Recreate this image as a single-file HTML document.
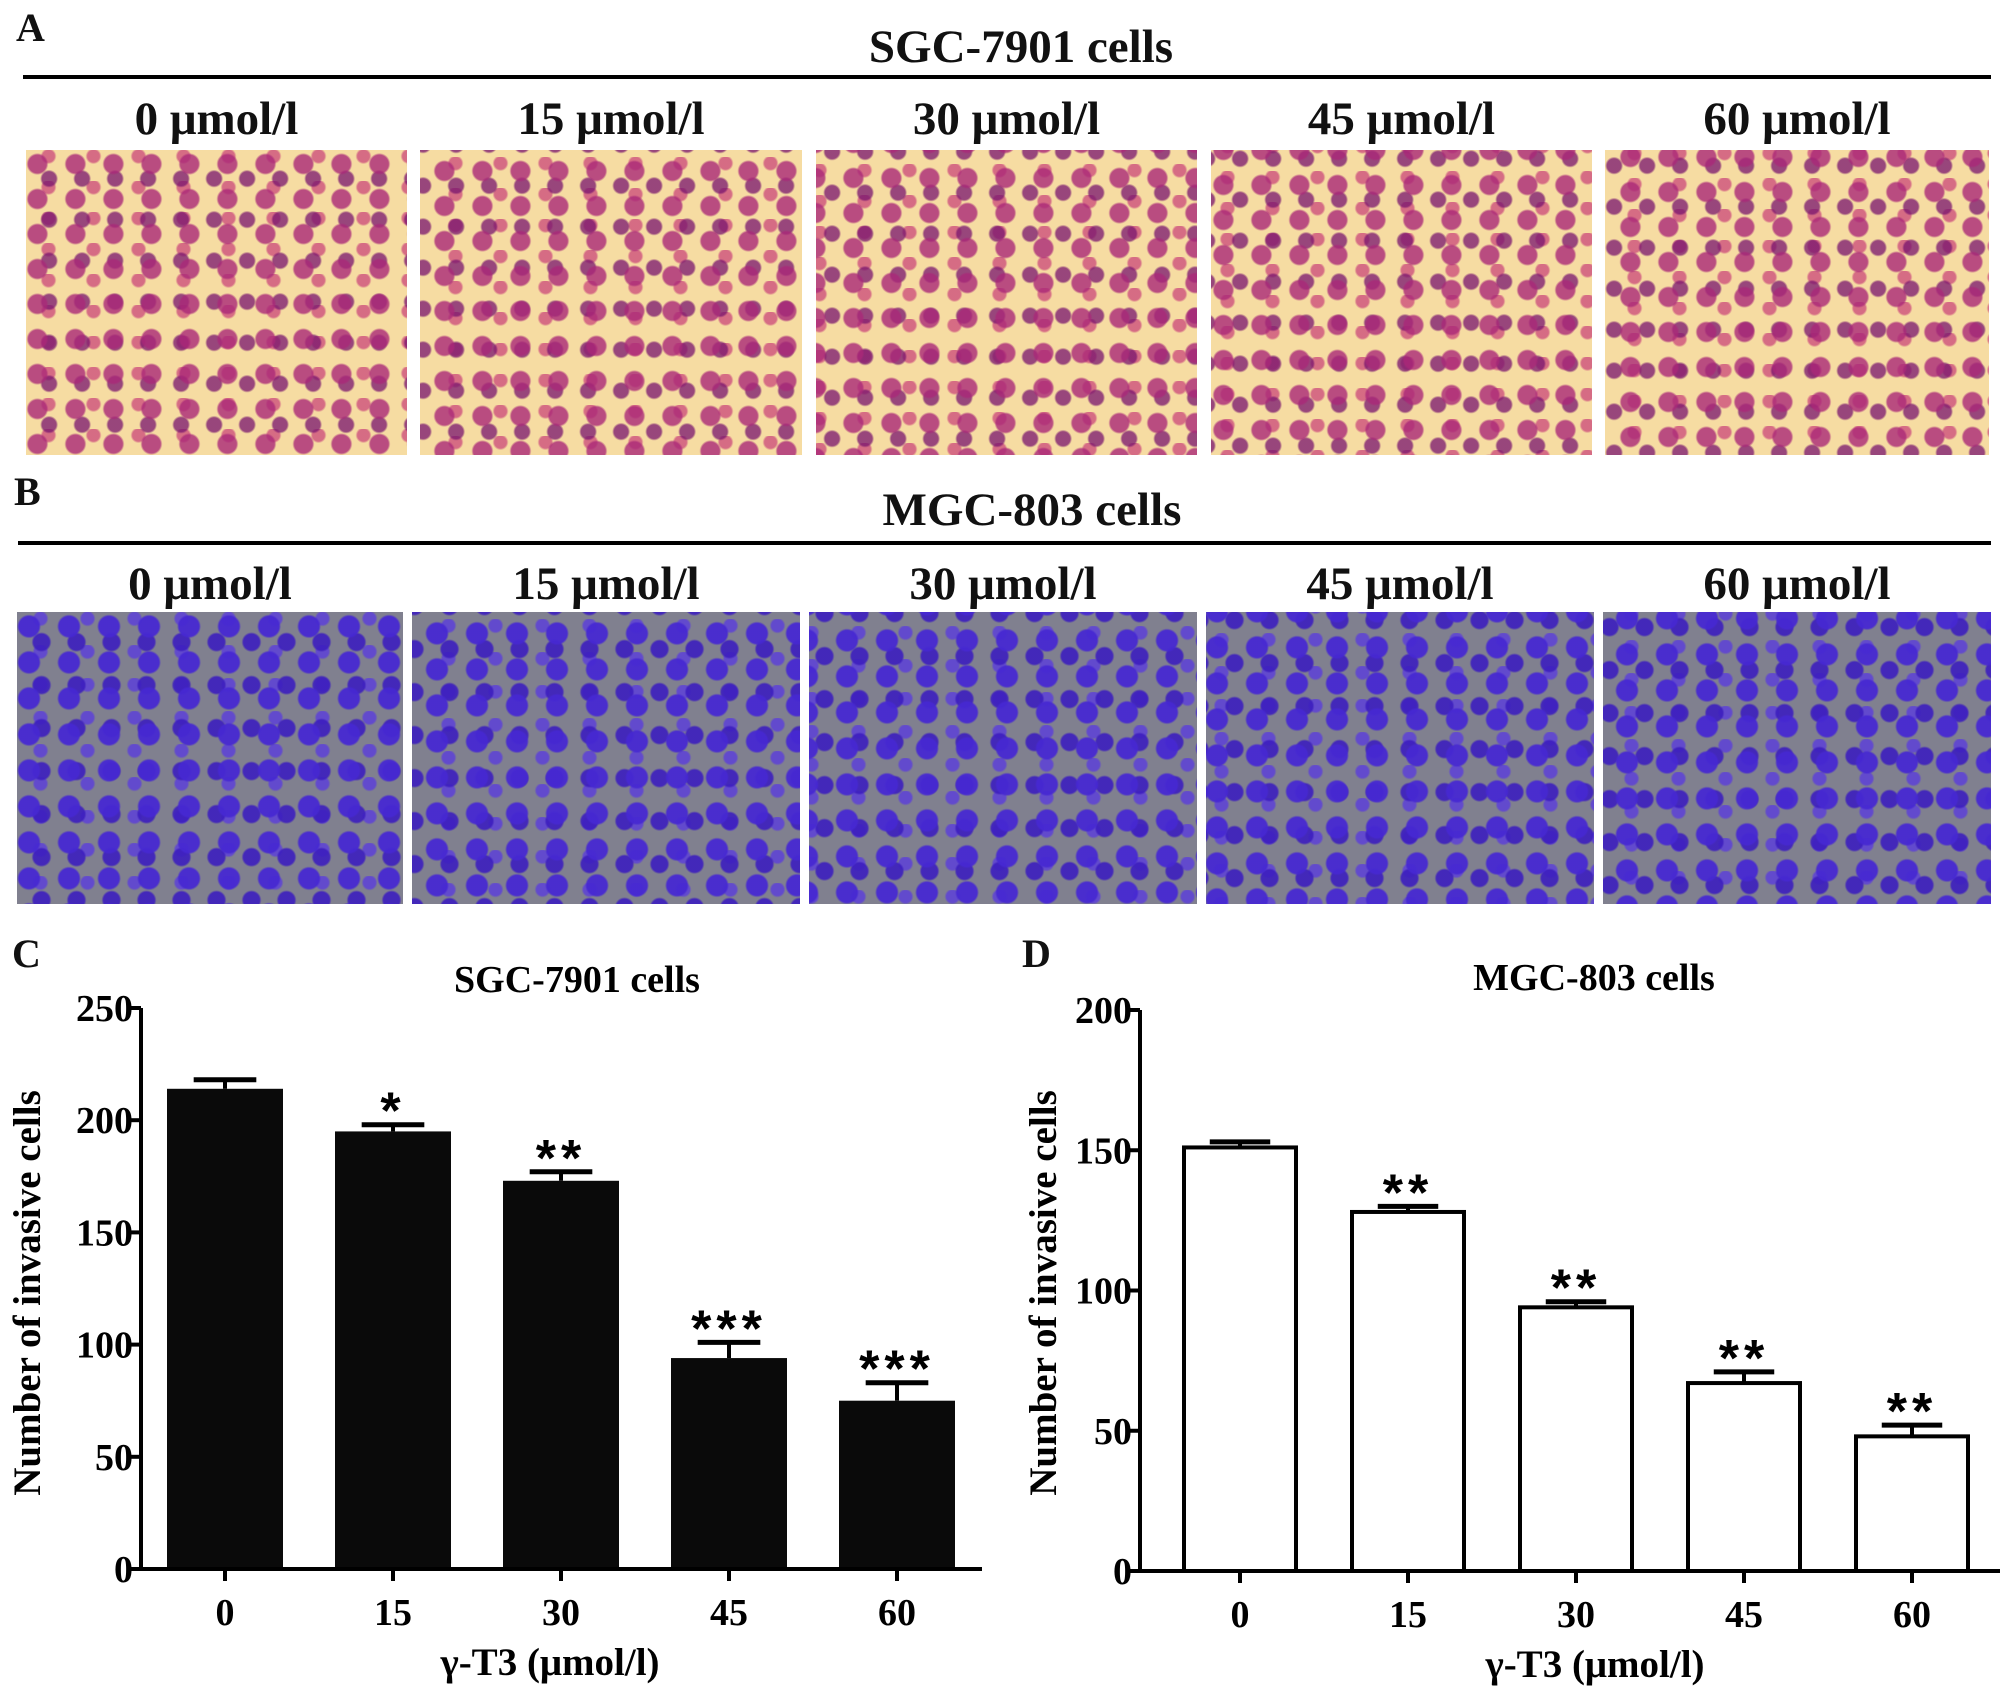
<!DOCTYPE html>
<html><head><meta charset="utf-8"><style>
html,body{margin:0;padding:0;background:#fff;}
body{width:2008px;height:1696px;position:relative;overflow:hidden;font-family:"Liberation Serif",serif;}
.t{position:absolute;font-weight:bold;color:#111;white-space:nowrap;}
.img{position:absolute;}
.pink{background-color:#f6dca2;
background-image:
radial-gradient(circle at 30% 40%, rgba(170,40,120,.8) 0 9px, transparent 11px),
radial-gradient(circle at 70% 70%, rgba(120,20,110,.75) 0 7px, transparent 9px),
radial-gradient(circle at 50% 20%, rgba(200,60,120,.7) 0 6px, transparent 8px);
background-size:38px 35px,33px 41px,45px 31px;}
.blue{background-color:#80808f;
background-image:
radial-gradient(circle at 30% 40%, rgba(70,40,210,.95) 0 10px, transparent 12px),
radial-gradient(circle at 70% 70%, rgba(60,30,190,.9) 0 8px, transparent 10px),
radial-gradient(circle at 50% 20%, rgba(90,60,220,.8) 0 6px, transparent 8px);
background-size:40px 36px,35px 43px,47px 33px;}
.rule{position:absolute;height:4px;background:#000;}
</style></head><body>
<div class="t" style="left:16px;top:4px;font-size:40px;">A</div>
<div class="t" style="left:771px;top:20px;width:500px;text-align:center;font-size:47px;">SGC-7901 cells</div>
<div class="rule" style="left:23px;top:75px;width:1968px;"></div>
<div class="t" style="left:14px;top:468px;font-size:40px;">B</div>
<div class="t" style="left:782px;top:483px;width:500px;text-align:center;font-size:47px;">MGC-803 cells</div>
<div class="rule" style="left:18px;top:541px;width:1973px;"></div>

<div id="imgs"></div>

<div class="t" style="left:12px;top:930px;font-size:40px;">C</div>
<div class="t" style="left:1022px;top:930px;font-size:40px;">D</div>

<svg id="chart" width="2008" height="1696" style="position:absolute;left:0;top:0"></svg>

<script>
const concLabels=["0 μmol/l","15 μmol/l","30 μmol/l","45 μmol/l","60 μmol/l"];
const rowAx=[26,420,816,1211,1605];
const rowAw=[381,382,381,381,384];
const rowBx=[17,412,809,1206,1603];
const rowBw=[386,388,388,388,388];
const imgs=document.getElementById('imgs');
function addRow(xs,ws,top,h,labTop,cls,name){
  xs.forEach((x,i)=>{
    const d=document.createElement('div');
    d.className='img '+cls;
    d.style.cssText=`left:${x}px;top:${top}px;width:${ws[i]}px;height:${h}px;background-position:${i*13}px ${i*7}px;`;
    
    
    imgs.appendChild(d);
    const l=document.createElement('div');
    l.className='t';
    l.style.cssText=`left:${x}px;top:${labTop}px;width:${ws[i]}px;text-align:center;font-size:47px;`;
    l.textContent=concLabels[i];
    
    
    imgs.appendChild(l);
  });
}
addRow(rowAx,rowAw,150,305,92,'pink','sgc');
addRow(rowBx,rowBw,612,292,557,'blue','mgc');

// chart data
const categories=["0","15","30","45","60"];
const sgcValues=[214,195,173,94,75];
const sgcErrors=[4,3,4,7,8];
const sgcStars=["","*","**","***","***"];
const mgcValues=[151,128,94,67,48];
const mgcErrors=[2,2,2,4,4];
const mgcStars=["","**","**","**","**"];
const sgcTicks=[0,50,100,150,200,250];
const mgcTicks=[0,50,100,150,200];

const svg=document.getElementById('chart');
const NS='http://www.w3.org/2000/svg';
function el(tag,attrs,parent,text){
  const e=document.createElementNS(NS,tag);
  for(const k in attrs)e.setAttribute(k,attrs[k]);
  if(text!==undefined)e.textContent=text;
  parent.appendChild(e);return e;
}
function drawChart(cfg){
  const g=el('g',{},svg);
  
  
  const y=v=>cfg.y0-(v/cfg.max)*(cfg.y0-cfg.yTop);
  const x=i=>cfg.x0+cfg.firstC+i*cfg.step;
  const bw=cfg.bw;
  cfg.values.forEach((v,i)=>{
    const top=y(v), errTop=y(v+cfg.errors[i]);
    const ln=el('line',{x1:x(i),x2:x(i),y1:top,y2:errTop,stroke:'#000','stroke-width':4},g);
    
    
    const cap=el('line',{x1:x(i)-bw*0.27,x2:x(i)+bw*0.27,y1:errTop,y2:errTop,stroke:'#000','stroke-width':5},g);
    
    
    const r=el('rect',{x:x(i)-bw/2,y:top,width:bw,height:cfg.y0-top,fill:cfg.fill,stroke:'#000','stroke-width':cfg.fill==='#fff'?4:0},g);
    
    
    if(cfg.stars[i]){
      const s=el('text',{x:x(i),y:errTop+4,'text-anchor':'middle','font-size':52,'font-weight':'bold','font-family':'Liberation Sans, sans-serif','letter-spacing':5},g,cfg.stars[i]);
      
      
    }
  });
  const ya=el('line',{x1:cfg.x0,x2:cfg.x0,y1:cfg.yTop,y2:cfg.y0+2,stroke:'#000','stroke-width':4},g);
  
  
  const xa=el('line',{x1:cfg.x0-2,x2:cfg.xEnd,y1:cfg.y0,y2:cfg.y0,stroke:'#000','stroke-width':4},g);
  
  
  cfg.ticks.forEach(t=>{
    el('line',{x1:cfg.x0-10,x2:cfg.x0,y1:y(t),y2:y(t),stroke:'#000','stroke-width':4},g);
    const tl=el('text',{x:cfg.x0-8,y:y(t)+13,'text-anchor':'end','font-size':38,'font-weight':'bold','font-family':'Liberation Serif, serif'},g,t);
    
    
  });
  categories.forEach((c,i)=>{
    el('line',{x1:x(i),x2:x(i),y1:cfg.y0,y2:cfg.y0+12,stroke:'#000','stroke-width':4},g);
    const tl=el('text',{x:x(i),y:cfg.y0+56,'text-anchor':'middle','font-size':38,'font-weight':'bold','font-family':'Liberation Serif, serif'},g,c);
    
    
  });
  const xt=el('text',{x:cfg.xTitleC,y:cfg.y0+106,'text-anchor':'middle','font-size':39,'font-weight':'bold','font-family':'Liberation Serif, serif'},g,'γ-T3 (μmol/l)');
  
  
  const yt=el('text',{x:0,y:0,transform:`translate(${cfg.yTitleX},${cfg.yTitleY}) rotate(-90)`,'text-anchor':'middle','font-size':39,'font-weight':'bold','font-family':'Liberation Serif, serif'},g,'Number of invasive cells');
  
  
  const ct=el('text',{x:cfg.titleX,y:cfg.titleY,'text-anchor':'middle','font-size':38,'font-weight':'bold','font-family':'Liberation Serif, serif'},g,cfg.title);
  
  
}
drawChart({name:'chart-sgc',values:sgcValues,errors:sgcErrors,stars:sgcStars,ticks:sgcTicks,max:250,
  x0:141,xEnd:982,y0:1569,yTop:1008,firstC:84,step:168,bw:116,fill:'#0a0a0a',
  xTitleC:550,yTitleX:40,yTitleY:1293,titleX:577,titleY:992,title:'SGC-7901 cells'});
drawChart({name:'chart-mgc',values:mgcValues,errors:mgcErrors,stars:mgcStars,ticks:mgcTicks,max:200,
  x0:1140,xEnd:2000,y0:1571,yTop:1010,firstC:100,step:168,bw:112,fill:'#fff',
  xTitleC:1595,yTitleX:1056,yTitleY:1293,titleX:1594,titleY:990,title:'MGC-803 cells'});
</script>
</body></html>
